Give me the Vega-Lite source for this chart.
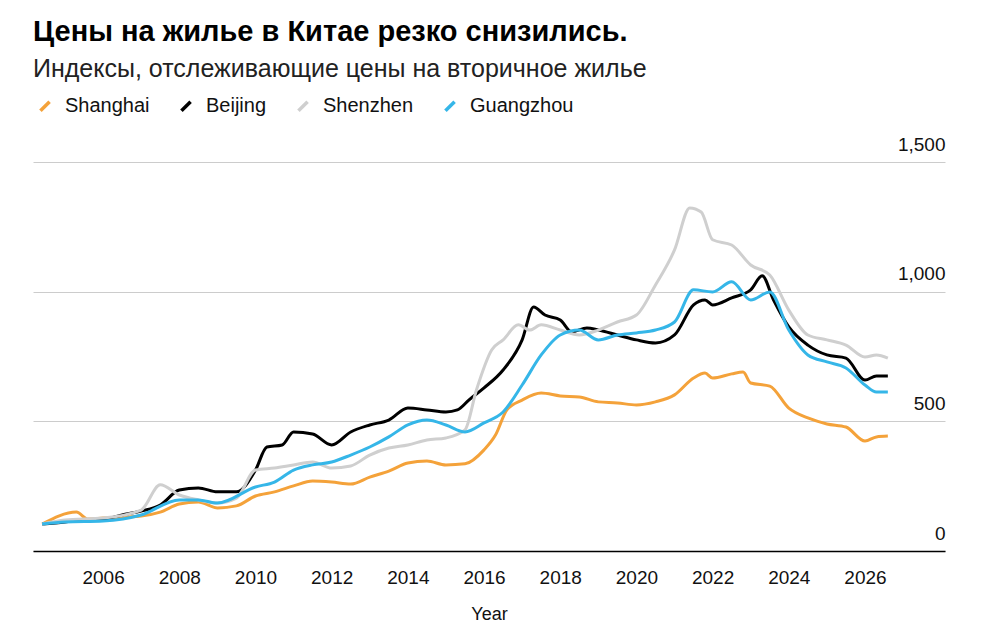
{
  "$schema": "https://vega.github.io/schema/vega-lite/v6.json",
  "autosize": "none",
  "width": 912,
  "height": 389,
  "padding": {"left": 33, "top": 162, "right": 62, "bottom": 88},
  "background": "white",
  "title": {
    "text": "Цены на жилье в Китае резко снизились.",
    "subtitle": "Индексы, отслеживающие цены на вторичное жилье",
    "anchor": "start",
    "frame": "group",
    "offset": 14,
    "font": "Liberation Sans",
    "fontSize": 29,
    "fontWeight": "bold",
    "color": "#000000",
    "subtitleFont": "Liberation Sans",
    "subtitleFontSize": 25,
    "subtitleColor": "#222222",
    "subtitlePadding": 10
  },
  "data": {"values": [
    {"s":"Shanghai","t":2004.4,"v":104},{"s":"Shanghai","t":2005.3,"v":150},{"s":"Shanghai","t":2005.6,"v":123},{"s":"Shanghai","t":2006,"v":127},{"s":"Shanghai","t":2007,"v":135},{"s":"Shanghai","t":2007.5,"v":150},{"s":"Shanghai","t":2008,"v":181},{"s":"Shanghai","t":2008.5,"v":189},{"s":"Shanghai","t":2009,"v":166},{"s":"Shanghai","t":2009.5,"v":174},{"s":"Shanghai","t":2010,"v":212},{"s":"Shanghai","t":2010.5,"v":228},{"s":"Shanghai","t":2011,"v":251},{"s":"Shanghai","t":2011.5,"v":270},{"s":"Shanghai","t":2012,"v":266},{"s":"Shanghai","t":2012.5,"v":258},{"s":"Shanghai","t":2013,"v":285},{"s":"Shanghai","t":2013.5,"v":308},{"s":"Shanghai","t":2014,"v":339},{"s":"Shanghai","t":2014.5,"v":347},{"s":"Shanghai","t":2015,"v":332},{"s":"Shanghai","t":2015.5,"v":336},{"s":"Shanghai","t":2016,"v":390},{"s":"Shanghai","t":2016.3,"v":447},{"s":"Shanghai","t":2016.6,"v":544},{"s":"Shanghai","t":2017,"v":582},{"s":"Shanghai","t":2017.5,"v":609},{"s":"Shanghai","t":2018,"v":598},{"s":"Shanghai","t":2018.5,"v":594},{"s":"Shanghai","t":2019,"v":575},{"s":"Shanghai","t":2019.5,"v":571},{"s":"Shanghai","t":2020,"v":563},{"s":"Shanghai","t":2020.5,"v":575},{"s":"Shanghai","t":2021,"v":602},{"s":"Shanghai","t":2021.5,"v":667},{"s":"Shanghai","t":2021.8,"v":686},{"s":"Shanghai","t":2022,"v":667},{"s":"Shanghai","t":2022.5,"v":683},{"s":"Shanghai","t":2022.8,"v":690},{"s":"Shanghai","t":2023,"v":648},{"s":"Shanghai","t":2023.5,"v":636},{"s":"Shanghai","t":2024,"v":551},{"s":"Shanghai","t":2024.5,"v":513},{"s":"Shanghai","t":2025,"v":490},{"s":"Shanghai","t":2025.5,"v":478},{"s":"Shanghai","t":2026,"v":424},{"s":"Shanghai","t":2026.3,"v":440},{"s":"Shanghai","t":2026.6,"v":443},
    {"s":"Beijing","t":2004.4,"v":104},{"s":"Beijing","t":2005,"v":112},{"s":"Beijing","t":2005.5,"v":120},{"s":"Beijing","t":2006,"v":123},{"s":"Beijing","t":2006.5,"v":139},{"s":"Beijing","t":2007,"v":154},{"s":"Beijing","t":2007.5,"v":177},{"s":"Beijing","t":2008,"v":235},{"s":"Beijing","t":2008.5,"v":243},{"s":"Beijing","t":2009,"v":228},{"s":"Beijing","t":2009.5,"v":228},{"s":"Beijing","t":2010,"v":312},{"s":"Beijing","t":2010.3,"v":401},{"s":"Beijing","t":2010.7,"v":409},{"s":"Beijing","t":2011,"v":459},{"s":"Beijing","t":2011.5,"v":451},{"s":"Beijing","t":2012,"v":409},{"s":"Beijing","t":2012.5,"v":459},{"s":"Beijing","t":2013,"v":486},{"s":"Beijing","t":2013.5,"v":505},{"s":"Beijing","t":2014,"v":551},{"s":"Beijing","t":2014.5,"v":544},{"s":"Beijing","t":2015,"v":536},{"s":"Beijing","t":2015.3,"v":544},{"s":"Beijing","t":2015.6,"v":582},{"s":"Beijing","t":2016,"v":629},{"s":"Beijing","t":2016.5,"v":698},{"s":"Beijing","t":2017,"v":814},{"s":"Beijing","t":2017.3,"v":941},{"s":"Beijing","t":2017.6,"v":910},{"s":"Beijing","t":2018,"v":891},{"s":"Beijing","t":2018.3,"v":845},{"s":"Beijing","t":2018.7,"v":860},{"s":"Beijing","t":2019,"v":852},{"s":"Beijing","t":2019.5,"v":833},{"s":"Beijing","t":2020,"v":814},{"s":"Beijing","t":2020.5,"v":802},{"s":"Beijing","t":2021,"v":833},{"s":"Beijing","t":2021.5,"v":949},{"s":"Beijing","t":2021.8,"v":968},{"s":"Beijing","t":2022,"v":949},{"s":"Beijing","t":2022.5,"v":976},{"s":"Beijing","t":2023,"v":1007},{"s":"Beijing","t":2023.3,"v":1061},{"s":"Beijing","t":2023.6,"v":968},{"s":"Beijing","t":2024,"v":864},{"s":"Beijing","t":2024.5,"v":794},{"s":"Beijing","t":2025,"v":756},{"s":"Beijing","t":2025.5,"v":744},{"s":"Beijing","t":2026,"v":659},{"s":"Beijing","t":2026.3,"v":675},{"s":"Beijing","t":2026.6,"v":675},
    {"s":"Shenzhen","t":2004.4,"v":104},{"s":"Shenzhen","t":2005,"v":120},{"s":"Shenzhen","t":2006,"v":127},{"s":"Shenzhen","t":2007,"v":158},{"s":"Shenzhen","t":2007.5,"v":255},{"s":"Shenzhen","t":2008,"v":216},{"s":"Shenzhen","t":2008.5,"v":197},{"s":"Shenzhen","t":2009,"v":185},{"s":"Shenzhen","t":2009.5,"v":204},{"s":"Shenzhen","t":2010,"v":312},{"s":"Shenzhen","t":2010.5,"v":320},{"s":"Shenzhen","t":2011,"v":332},{"s":"Shenzhen","t":2011.5,"v":343},{"s":"Shenzhen","t":2012,"v":320},{"s":"Shenzhen","t":2012.5,"v":328},{"s":"Shenzhen","t":2013,"v":370},{"s":"Shenzhen","t":2013.5,"v":397},{"s":"Shenzhen","t":2014,"v":409},{"s":"Shenzhen","t":2014.5,"v":428},{"s":"Shenzhen","t":2015,"v":436},{"s":"Shenzhen","t":2015.5,"v":467},{"s":"Shenzhen","t":2015.8,"v":621},{"s":"Shenzhen","t":2016.2,"v":775},{"s":"Shenzhen","t":2016.5,"v":814},{"s":"Shenzhen","t":2016.9,"v":872},{"s":"Shenzhen","t":2017.2,"v":852},{"s":"Shenzhen","t":2017.5,"v":872},{"s":"Shenzhen","t":2018,"v":852},{"s":"Shenzhen","t":2018.5,"v":833},{"s":"Shenzhen","t":2019,"v":852},{"s":"Shenzhen","t":2019.5,"v":883},{"s":"Shenzhen","t":2020,"v":910},{"s":"Shenzhen","t":2020.5,"v":1026},{"s":"Shenzhen","t":2021,"v":1161},{"s":"Shenzhen","t":2021.4,"v":1323},{"s":"Shenzhen","t":2021.7,"v":1307},{"s":"Shenzhen","t":2022,"v":1200},{"s":"Shenzhen","t":2022.5,"v":1180},{"s":"Shenzhen","t":2023,"v":1103},{"s":"Shenzhen","t":2023.5,"v":1064},{"s":"Shenzhen","t":2024,"v":929},{"s":"Shenzhen","t":2024.5,"v":833},{"s":"Shenzhen","t":2025,"v":814},{"s":"Shenzhen","t":2025.5,"v":794},{"s":"Shenzhen","t":2026,"v":748},{"s":"Shenzhen","t":2026.3,"v":756},{"s":"Shenzhen","t":2026.6,"v":744},
    {"s":"Guangzhou","t":2004.4,"v":104},{"s":"Guangzhou","t":2005,"v":112},{"s":"Guangzhou","t":2006,"v":116},{"s":"Guangzhou","t":2007,"v":139},{"s":"Guangzhou","t":2008,"v":197},{"s":"Guangzhou","t":2008.5,"v":197},{"s":"Guangzhou","t":2009,"v":185},{"s":"Guangzhou","t":2010,"v":247},{"s":"Guangzhou","t":2010.5,"v":266},{"s":"Guangzhou","t":2011,"v":312},{"s":"Guangzhou","t":2011.5,"v":332},{"s":"Guangzhou","t":2012,"v":343},{"s":"Guangzhou","t":2012.5,"v":370},{"s":"Guangzhou","t":2013,"v":401},{"s":"Guangzhou","t":2013.5,"v":440},{"s":"Guangzhou","t":2014,"v":486},{"s":"Guangzhou","t":2014.5,"v":505},{"s":"Guangzhou","t":2015,"v":486},{"s":"Guangzhou","t":2015.5,"v":459},{"s":"Guangzhou","t":2016,"v":494},{"s":"Guangzhou","t":2016.5,"v":536},{"s":"Guangzhou","t":2017,"v":640},{"s":"Guangzhou","t":2017.5,"v":756},{"s":"Guangzhou","t":2018,"v":833},{"s":"Guangzhou","t":2018.5,"v":852},{"s":"Guangzhou","t":2019,"v":814},{"s":"Guangzhou","t":2019.5,"v":833},{"s":"Guangzhou","t":2020,"v":841},{"s":"Guangzhou","t":2020.5,"v":852},{"s":"Guangzhou","t":2021,"v":883},{"s":"Guangzhou","t":2021.5,"v":1007},{"s":"Guangzhou","t":2022,"v":999},{"s":"Guangzhou","t":2022.5,"v":1038},{"s":"Guangzhou","t":2023,"v":968},{"s":"Guangzhou","t":2023.5,"v":999},{"s":"Guangzhou","t":2024,"v":852},{"s":"Guangzhou","t":2024.5,"v":756},{"s":"Guangzhou","t":2025,"v":729},{"s":"Guangzhou","t":2025.5,"v":706},{"s":"Guangzhou","t":2026,"v":640},{"s":"Guangzhou","t":2026.3,"v":613},{"s":"Guangzhou","t":2026.6,"v":613}
  ]},
  "mark": {"type": "line", "strokeWidth": 3, "interpolate": "monotone"},
  "encoding": {
    "x": {
      "field": "t", "type": "quantitative", "title": "Year",
      "scale": {"domain": [2004.16, 2028.1], "nice": false},
      "axis": {"values": [2006, 2008, 2010, 2012, 2014, 2016, 2018, 2020, 2022, 2024, 2026], "format": "d", "grid": false, "ticks": false, "domainColor": "#000000", "domainWidth": 1.5, "labelPadding": 17, "titlePadding": 18, "titleFontWeight": "normal"}
    },
    "y": {
      "field": "v", "type": "quantitative", "title": null,
      "scale": {"domain": [0, 1500], "nice": false},
      "axis": {"orient": "right", "values": [0, 500, 1000, 1500], "format": ",.0f", "domain": false, "ticks": false, "labelAlign": "right", "labelPadding": 0, "labelBaseline": "bottom", "labelOffset": -8, "gridColor": "#cccccc", "gridWidth": 1}
    },
    "color": {
      "field": "s", "type": "nominal", "title": null,
      "scale": {"domain": ["Shanghai", "Beijing", "Shenzhen", "Guangzhou"], "range": ["#f4a23a", "#000000", "#cfcfcf", "#35b6e8"]},
      "legend": {"orient": "none", "legendX": 2, "legendY": -66, "direction": "horizontal", "symbolType": "M-0.7,0.7L0.7,-0.7", "symbolStrokeWidth": 3.5, "symbolSize": 170, "labelFontSize": 20, "labelOffset": 10, "columnPadding": 24, "labelColor": "#111111"}
    }
  },
  "config": {
    "view": {"stroke": null},
    "font": "Liberation Sans",
    "axis": {"labelFontSize": 19, "titleFontSize": 18, "labelColor": "#111111", "titleColor": "#111111", "labelFont": "Liberation Sans", "titleFont": "Liberation Sans"},
    "legend": {"labelFont": "Liberation Sans"}
  }
}
